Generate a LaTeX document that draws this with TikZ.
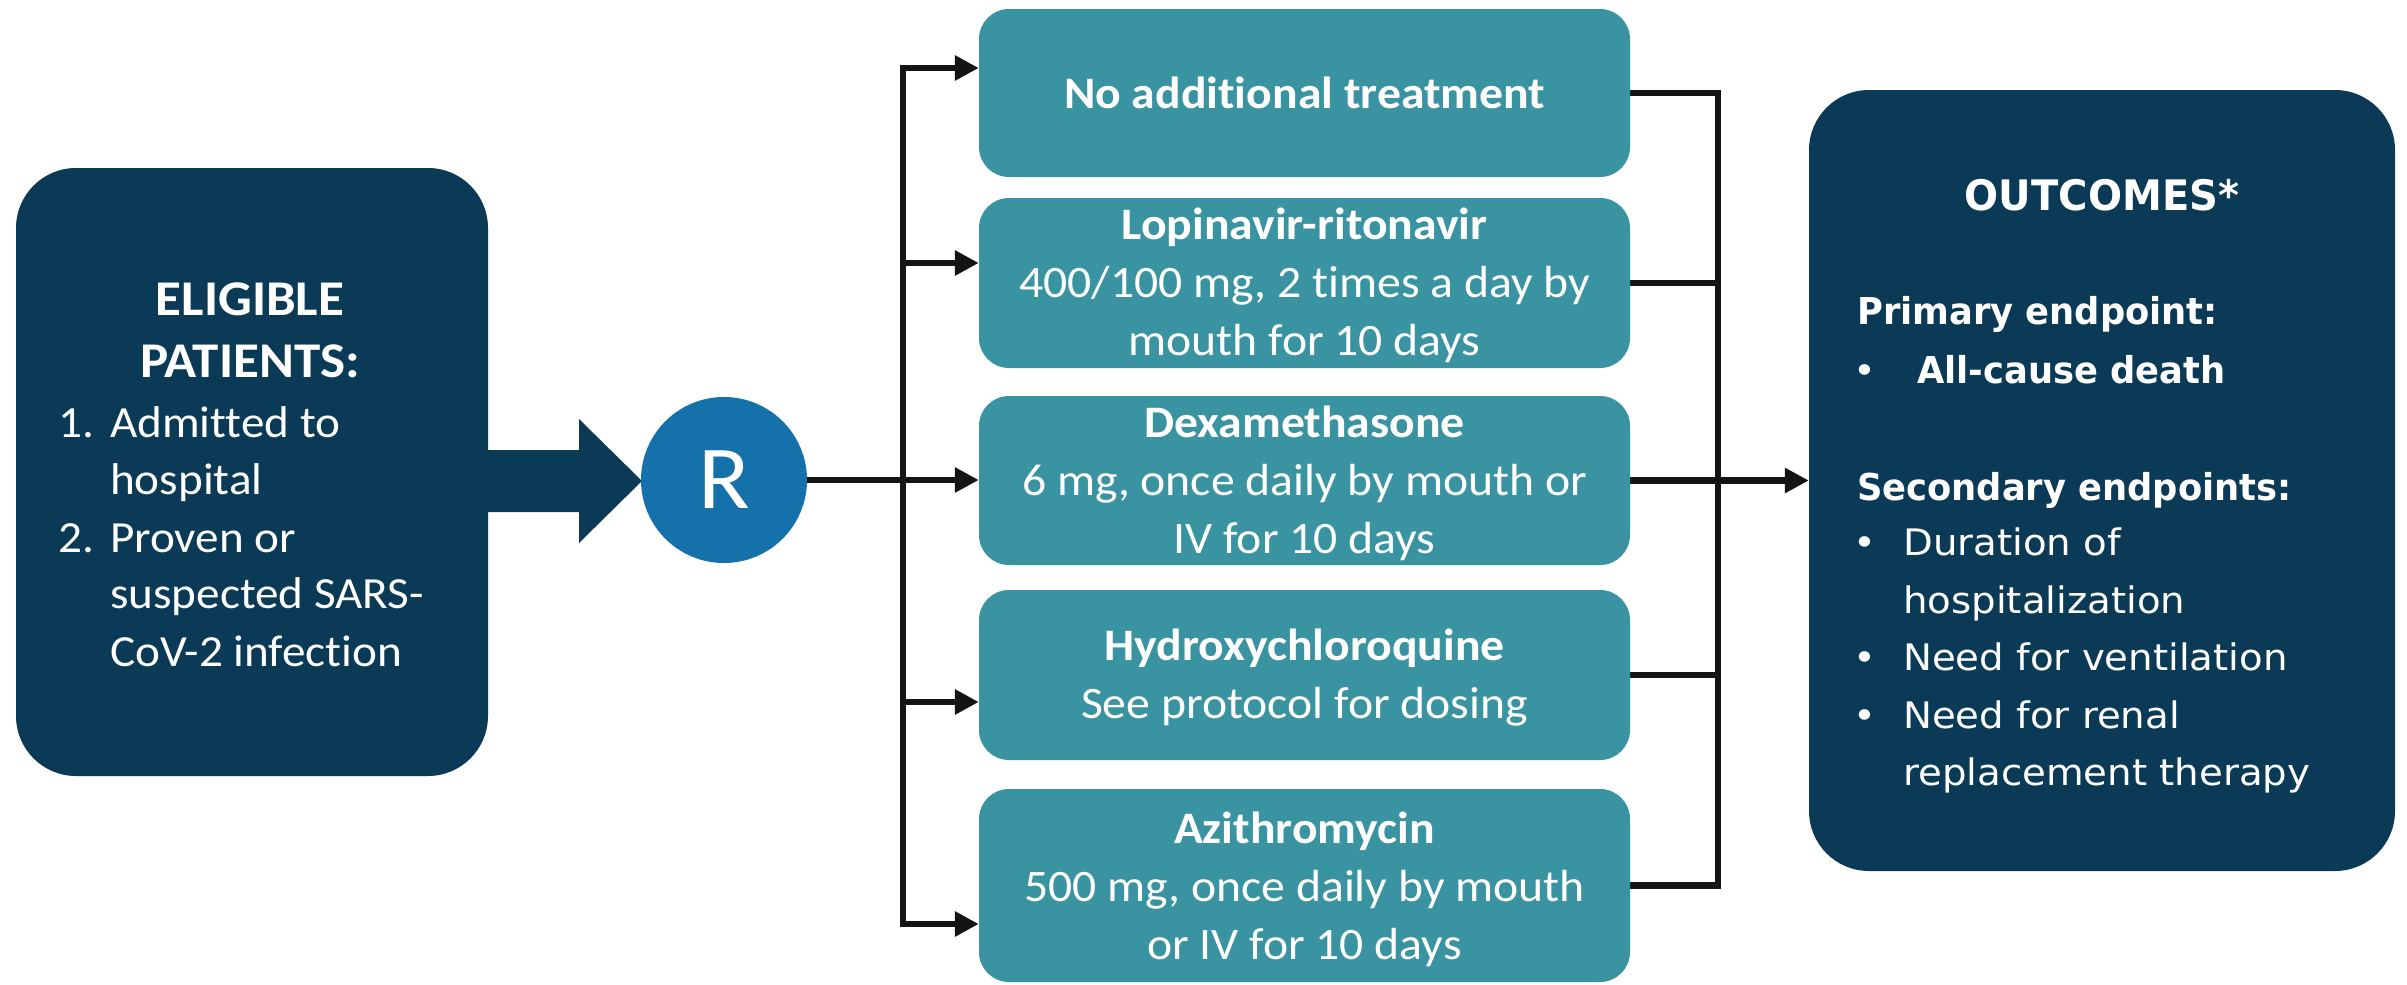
\documentclass[tikz,border=0pt]{standalone}
\usepackage{fontspec}
\setmainfont{Carlito}[FakeStretch=1.06,Ligatures=CommonOff]
\newfontfamily\outfont{DejaVu Sans}[FakeStretch=1.06]
\newfontfamily\outboldfont{DejaVu Sans Condensed}[FakeStretch=1.06]
\usetikzlibrary{arrows.meta}
\pgfdeclarelayer{bg}
\pgfsetlayers{bg,main}
\definecolor{navy}{RGB}{11,58,87}
\definecolor{tealbox}{RGB}{58,147,161}
\definecolor{rblue}{RGB}{21,113,170}
\newcommand\ftreg{\fontsize{45}{58}\selectfont}
\newcommand\ftbold{\fontsize{45}{58}\selectfont\bfseries}
\newcommand\fthead{\fontsize{50}{60}\selectfont\bfseries}
\newcommand\fleft{\fontsize{44.5}{57}\selectfont}
\newcommand\foreg{\outfont\fontsize{36.5}{57}\selectfont}
\newcommand\fobold{\outboldfont\bfseries\fontsize{37}{57}\selectfont}
\newcommand\fotitle{\outboldfont\bfseries\fontsize{42}{50}\selectfont}
\begin{document}
\begin{tikzpicture}[x=1pt,y=-1pt,
  navybox/.style={rectangle, rounded corners=60pt, fill=navy, draw=none, inner sep=0pt},
  tbox/.style={rectangle, rounded corners=30pt, fill=tealbox, draw=none, inner sep=0pt, minimum width=651pt},
  wt/.style={text=white, inner sep=0pt, anchor=base},
  wtl/.style={wt, anchor=base west},
  conn/.style={line width=6.5pt, draw=black!92, line cap=rect, line join=miter},
  arr/.style={conn, -{Triangle[length=24pt,width=24pt]}},
]
\useasboundingbox (0,0) rectangle (2407,985);

% eligible patients box and big arrow
\node[navybox, minimum width=472pt, minimum height=608pt] (elig) at (252,472) {};
\fill[navy] (486,450) -- (579,450) -- (579,419) -- (642,481) -- (579,543) -- (579,512) -- (486,512) -- cycle;

% randomisation
\node[circle, fill=rblue, minimum size=166pt, inner sep=0pt, text=white, font=\fontsize{90}{90}\selectfont] (R) at (724,480) {R};

% treatment boxes
\node[tbox, minimum height=168pt] (b1) at (1304.5,93) {};
\node[tbox, minimum height=170pt] (b2) at (1304.5,283) {};
\node[tbox, minimum height=169pt] (b3) at (1304.5,480.5) {};
\node[tbox, minimum height=170pt] (b4) at (1304.5,675) {};
\node[tbox, minimum height=193pt] (b5) at (1304.5,885.5) {};

% outcomes box
\node[navybox, minimum width=586pt, minimum height=781pt] (out) at (2102,480.5) {};

% left texts
\node[wt, font=\fthead] (e1) at (250,315) {ELIGIBLE};
\node[wt, font=\fthead] (e2) at (250,377) {PATIENTS:};
\node[wtl, font=\fleft] (e3n) at (58,437) {1.};
\node[wtl, font=\fleft] (e3) at (110,437) {Admitted to};
\node[wtl, font=\fleft] (e4) at (110,494) {hospital};
\node[wtl, font=\fleft] (e5n) at (58,552) {2.};
\node[wtl, font=\fleft] (e5) at (110,552) {Proven or};
\node[wtl, font=\fleft] (e6) at (110,608) {suspected SARS-};
\node[wtl, font=\fleft] (e7) at (110,666) {CoV-2 infection};

% treatment texts
\node[wt, font=\ftbold] (t1) at (1304.5,108) {No additional treatment};
\node[wt, font=\ftbold] (t2a) at (1304.5,239) {Lopinavir-ritonavir};
\node[wt, font=\ftreg] (t2b) at (1304.5,297) {400/100 mg, 2 times a day by};
\node[wt, font=\ftreg] (t2c) at (1304.5,355) {mouth for 10 days};
\node[wt, font=\ftbold] (t3a) at (1304.5,437) {Dexamethasone};
\node[wt, font=\ftreg] (t3b) at (1304.5,495) {6 mg, once daily by mouth or};
\node[wt, font=\ftreg] (t3c) at (1304.5,553) {IV for 10 days};
\node[wt, font=\ftbold] (t4a) at (1304.5,660) {Hydroxychloroquine};
\node[wt, font=\ftreg] (t4b) at (1304.5,718) {See protocol for dosing};
\node[wt, font=\ftbold] (t5a) at (1304.5,843) {Azithromycin};
\node[wt, font=\ftreg] (t5b) at (1304.5,901) {500 mg, once daily by mouth};
\node[wt, font=\ftreg] (t5c) at (1304.5,959) {or IV for 10 days};

% outcomes texts
\node[wt, font=\fotitle] (o0) at (2102,210) {OUTCOMES*};
\node[wtl, font=\fobold] (o1) at (1857,324) {Primary endpoint:};
\node[wt, font=\foreg] (ob1) at (1865,383) {•};
\node[wtl, font=\fobold] (o2) at (1917,383) {All-cause death};
\node[wtl, font=\fobold] (o3) at (1857,500) {Secondary endpoints:};
\node[wt, font=\foreg] (ob2) at (1865,555) {•};
\node[wtl, font=\foreg] (o4) at (1903,555) {Duration of};
\node[wtl, font=\foreg] (o5) at (1903,613) {hospitalization};
\node[wt, font=\foreg] (ob3) at (1865,670) {•};
\node[wtl, font=\foreg] (o6) at (1903,670) {Need for ventilation};
\node[wt, font=\foreg] (ob4) at (1865,728) {•};
\node[wtl, font=\foreg] (o7) at (1903,728) {Need for renal};
\node[wtl, font=\foreg] (o8) at (1903,785) {replacement therapy};

% connectors
\coordinate (L1) at (903,68);
\coordinate (L2) at (903,263);
\coordinate (L4) at (903,702);
\coordinate (L5) at (903,924);
\coordinate (J1) at (1718,93);
\coordinate (J2) at (1718,283);
\coordinate (J3) at (1718,480.5);
\coordinate (J4) at (1718,675);
\coordinate (J5) at (1718,885.5);
\begin{pgfonlayer}{bg}
\fill[white] (0,0) rectangle (2407,985);
\draw[conn] (L1) -- (L5);
\draw[arr] (L1) -- (L1 -| b1.west);
\draw[arr] (L2) -- (L2 -| b2.west);
\draw[arr] (R) -- (R -| b3.west);
\draw[arr] (L4) -- (L4 -| b4.west);
\draw[arr] (L5) -- (L5 -| b5.west);
\draw[conn] (b1) -- (J1) -- (J5) -- (b5);
\draw[conn] (b2) -- (J2);
\draw[conn] (b3) -- (J3);
\draw[conn] (b4) -- (J4);
\draw[arr] (J3) -- (out);
\end{pgfonlayer}
\end{tikzpicture}
\end{document}
